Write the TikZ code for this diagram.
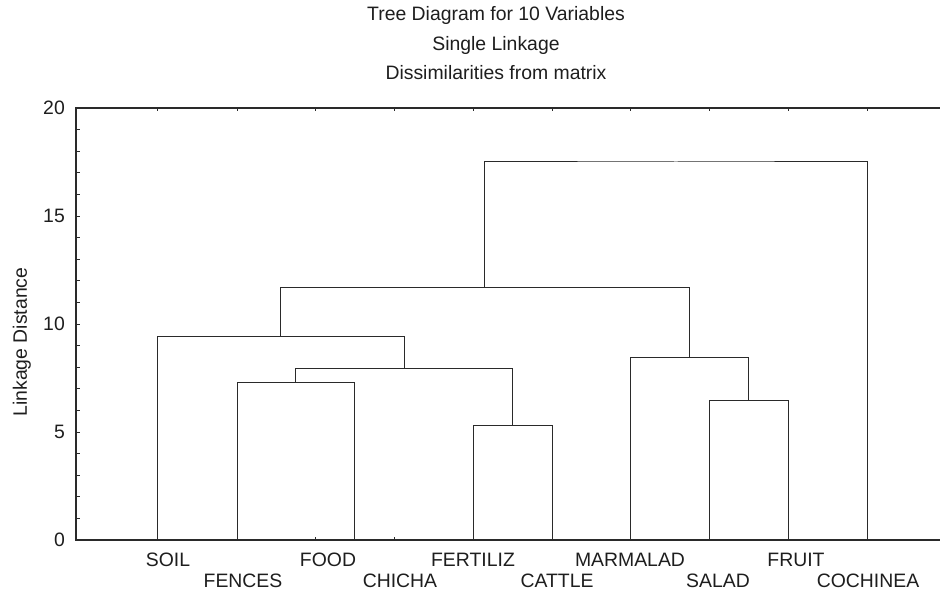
\documentclass[tikz,border=0pt]{standalone}
\usepackage{fontspec}
\setmainfont{Liberation Sans}
\definecolor{linecol}{HTML}{2A2A2A}
\definecolor{textcol}{HTML}{1E1E1E}
\begin{document}
\begin{tikzpicture}[x=1pt,y=1pt,
  tree/.style={draw=linecol, line width=1pt},
  axisline/.style={draw=linecol, line width=1.1pt},
  tickmark/.style={draw=linecol, line width=0.8pt},
  txt/.style={font=\fontsize{19.4}{23}\selectfont, text=textcol, inner sep=0pt},
  leaflabel/.style={txt, anchor=base},
  ticklabel/.style={txt, anchor=east},
  titleline/.style={txt, anchor=base}]
\useasboundingbox (0,0) rectangle (940,599);
\fill[white] (0,0) rectangle (940,599);

% titles
\node[titleline] (t1) at (496,578) {Tree Diagram for 10 Variables};
\node[titleline] (t2) at (496,548) {Single Linkage};
\node[titleline] (t3) at (496,519) {Dissimilarities from matrix};

% axis title
\node[txt, rotate=90, anchor=base] (ylab) at (27,257) {Linkage Distance};

% plot area in data units (1 unit = 21.6pt)
\begin{scope}[yshift=59pt, y=21.6pt]
  % frame
  \draw[axisline] (940,20) -- (76,20) -- (76,0) -- (940,0);
  \foreach \v in {1,...,19} \draw[tickmark] (76,\v) -- ++(4,0);

  % tick labels
  \node[ticklabel] (y0)  at (65,0)  {0};
  \node[ticklabel] (y5)  at (65,5)  {5};
  \node[ticklabel] (y10) at (65,10) {10};
  \node[ticklabel] (y15) at (65,15) {15};
  \node[ticklabel] (y20) at (65,20) {20};

  % leaves
  \coordinate (soil)     at (157,0);
  \coordinate (fences)   at (237,0);
  \coordinate (food)     at (315,0);
  \coordinate (chicha)   at (394,0);
  \coordinate (fertiliz) at (473,0);
  \coordinate (cattle)   at (552,0);
  \coordinate (marmalad) at (630,0);
  \coordinate (salad)    at (709,0);
  \coordinate (fruit)    at (788,0);
  \coordinate (cochinea) at (867,0);

  % small ticks at leaf positions
  \foreach \x in {157,237,315,394,473,552,630,709,788,867} {
    \draw[tickmark] (\x,0) -- ++(0,3pt);
    \draw[tickmark] (\x,20) -- ++(0,-3pt);
  }

  % merge points (FOOD and CHICHA join at distance 0, on the axis)
  \coordinate (m1) at (354.5,0);
  \coordinate (m2) at (295.75,7.31);
  \coordinate (m3) at (512.5,5.32);
  \coordinate (m4) at (404.1,7.96);
  \coordinate (m5) at (280.5,9.44);
  \coordinate (m6) at (748.5,6.48);
  \coordinate (m7) at (689.2,8.43);
  \coordinate (m8) at (484.8,11.71);
  \coordinate (m9) at (675.9,17.5);

  % dendrogram
  \draw[tree] (fences) |- (m2) -| (m1);
  \draw[tree] (fertiliz) |- (m3) -| (cattle);
  \draw[tree] (m2) |- (m4) -| (m3);
  \draw[tree] (soil) |- (m5) -| (m4);
  \draw[tree] (salad) |- (m6) -| (fruit);
  \draw[tree] (marmalad) |- (m7) -| (m6);
  \draw[tree] (m5) |- (m8) -| (m7);
  \draw[tree] (m8) |- (m9) -| (cochinea);
\end{scope}

% leaf labels, two staggered rows
\node[leaflabel] (soil-l)     at (168,32) {SOIL};
\node[leaflabel] (fences-l)   at (243,11) {FENCES};
\node[leaflabel] (food-l)     at (328,32) {FOOD};
\node[leaflabel] (chicha-l)   at (400,11) {CHICHA};
\node[leaflabel] (fertiliz-l) at (473,32) {FERTILIZ};
\node[leaflabel] (cattle-l)   at (557,11) {CATTLE};
\node[leaflabel] (marmalad-l) at (630,32) {MARMALAD};
\node[leaflabel] (salad-l)    at (718,11) {SALAD};
\node[leaflabel] (fruit-l)    at (796,32) {FRUIT};
\node[leaflabel] (cochinea-l) at (868,11) {COCHINEA};
\end{tikzpicture}
\end{document}
